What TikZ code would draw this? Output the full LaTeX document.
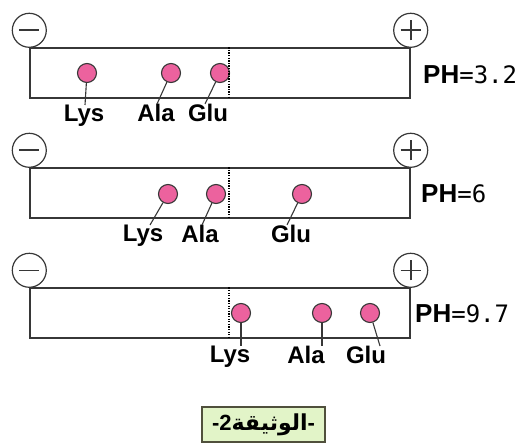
\documentclass[tikz,border=0pt]{standalone}
\usepackage{fontspec}
\setmainfont{Liberation Sans}
\newfontfamily\phfont{DejaVu Sans Mono}
\newfontfamily\arabicfont[Script=Arabic]{DejaVu Sans}
\TeXXeTstate=1
\usepackage{tikz}

\definecolor{ionpink}{RGB}{236,98,158}
\definecolor{boxgreen}{RGB}{226,244,200}
\definecolor{linegray}{RGB}{55,55,55}
\definecolor{boxline}{RGB}{80,80,60}

\begin{document}
\begin{tikzpicture}[x=1pt, y=-1pt,
    gel/.style={draw=linegray, line width=1.4pt, rectangle, minimum width=380pt, minimum height=50pt, inner sep=0pt},
    elec/.style={draw=linegray, line width=1.2pt, circle, fill=white, minimum size=34pt, inner sep=0pt},
    cathode/.style={elec, path picture={\draw[line width=1.6pt] ([xshift=-10pt]path picture bounding box.center) -- ([xshift=10pt]path picture bounding box.center);}},
    anode/.style={elec, path picture={\draw[line width=1.6pt] ([xshift=-10pt]path picture bounding box.center) -- ([xshift=10pt]path picture bounding box.center) ([yshift=-10pt]path picture bounding box.center) -- ([yshift=10pt]path picture bounding box.center);}},
    ion/.style={draw=linegray, line width=1.1pt, circle, fill=ionpink, minimum size=19pt, inner sep=0pt},
    lbl/.style={anchor=north, inner sep=0pt, font=\fontsize{24}{26}\selectfont\bfseries},
    ph/.style={anchor=west, inner sep=0pt, font=\fontsize{26}{28}\selectfont},
    front/.style={draw=black, dash pattern=on 1.3pt off 1.3pt, line width=1.5pt},
    lead/.style={draw=linegray, line width=1.1pt},
    capbox/.style={draw=boxline, fill=boxgreen, line width=1.2pt, minimum width=123pt, minimum height=35pt, inner sep=0pt, font=\fontsize{22}{24}\selectfont\bfseries}]
    \useasboundingbox (0,0) rectangle (524,446);

    % Nodes
    % pH 3.2
    \node[gel] (gel1) at (220,73) {};
    \node[cathode] (neg1) at ([yshift=17pt]gel1.north west) {};
    \node[anode] (pos1) at ([yshift=17pt]gel1.north east) {};
    \node[ion] (lys1) at (87,73) {};
    \node[ion] (ala1) at (171,73) {};
    \node[ion] (glu1) at (220,73) {};
    \node[lbl] (lyslab1) at (84,105) {Lys};
    \node[lbl] (alalab1) at (156,104) {Ala};
    \node[lbl] (glulab1) at (208,104) {Glu};
    \node[ph] (ph1) at (423,75) {\textbf{PH}{\phfont\fontsize{24}{26}\selectfont=3.2}};

    % pH 6
    \node[gel] (gel2) at (220,193) {};
    \node[cathode] (neg2) at ([yshift=17pt]gel2.north west) {};
    \node[anode] (pos2) at ([yshift=17pt]gel2.north east) {};
    \node[ion] (lys2) at (168,194) {};
    \node[ion] (ala2) at (216,194) {};
    \node[ion] (glu2) at (302,194) {};
    \node[lbl] (lyslab2) at (143,225) {Lys};
    \node[lbl] (alalab2) at (200,225) {Ala};
    \node[lbl] (glulab2) at (291,225) {Glu};
    \node[ph] (ph2) at (421,194) {\textbf{PH}{\phfont\fontsize{24}{26}\selectfont=6}};

    % pH 9.7
    \node[gel] (gel3) at (220,313) {};
    \node[cathode] (neg3) at ([yshift=17pt]gel3.north west) {};
    \node[anode] (pos3) at ([yshift=17pt]gel3.north east) {};
    \node[ion] (lys3) at (241,313) {};
    \node[ion] (ala3) at (322,313) {};
    \node[ion] (glu3) at (370,313) {};
    \node[lbl] (lyslab3) at (230,346) {Lys};
    \node[lbl] (alalab3) at (306,346) {Ala};
    \node[lbl] (glulab3) at (366,346) {Glu};
    \node[ph] (ph3) at (415,314) {\textbf{PH}{\phfont\fontsize{24}{26}\selectfont=9.7}};

    \node[capbox] (doc) at (263.5,424.5) {-2{\arabicfont\beginR الوثيقة\endR}-};

    % Lines
    \draw[front] ([xshift=9pt]gel1.north) -- ([xshift=9pt]gel1.south);
    \draw[front] ([xshift=9pt]gel2.north) -- ([xshift=9pt]gel2.south);
    \draw[front] ([xshift=9pt]gel3.north) -- ([xshift=9pt]gel3.south);

    \draw[lead] (lys1) -- ([xshift=1pt]lyslab1.north);
    \draw[lead] (ala1) -- ([xshift=1pt]alalab1.north);
    \draw[lead] (glu1) -- ([xshift=-3pt]glulab1.north);
    \draw[lead] (lys2) -- ([xshift=7pt]lyslab2.north);
    \draw[lead] (ala2) -- ([xshift=2pt]alalab2.north);
    \draw[lead] (glu2) -- ([xshift=-4pt]glulab2.north);
    \draw[lead] (lys3) -- ([xshift=11pt]lyslab3.north);
    \draw[lead] (ala3) -- ([xshift=16pt]alalab3.north);
    \draw[lead] (glu3) -- ([xshift=14pt]glulab3.north);
\end{tikzpicture}
\end{document}
